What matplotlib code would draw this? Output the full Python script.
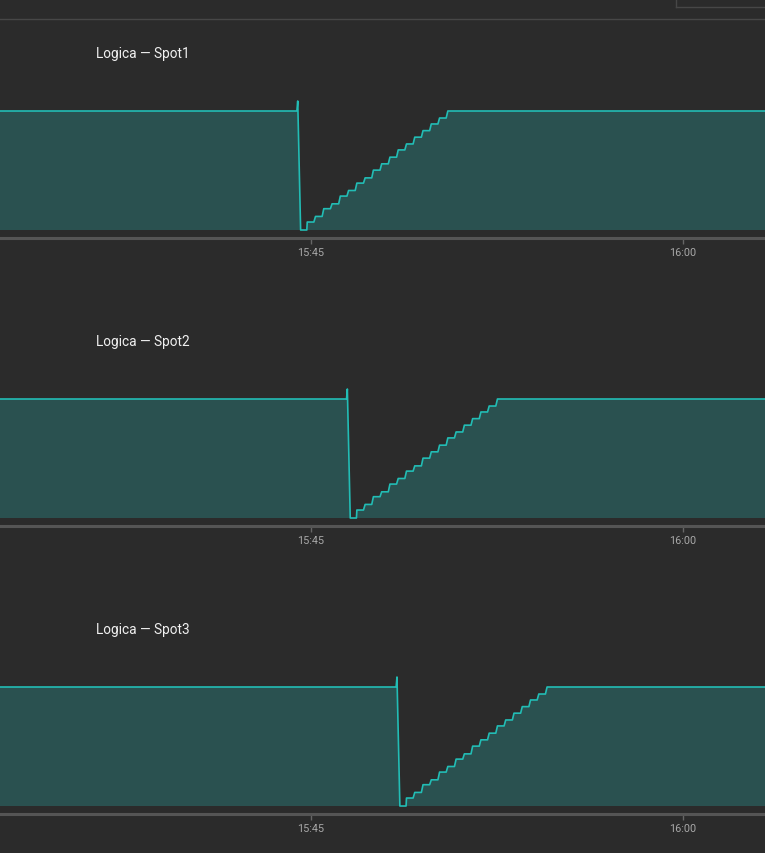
import pandas as pd
import matplotlib
matplotlib.use('Agg')
import matplotlib.pyplot as plt
import matplotlib.dates as mdates
from matplotlib.lines import Line2D

plt.rcParams['font.family'] = ['Roboto', 'DejaVu Sans']

BG = '#2b2b2b'
LINE = '#22bdb5'
FILL = '#2a5150'

day = '2024-01-01 '

titles = ['Logica \u2014 Spot1', 'Logica \u2014 Spot2', 'Logica \u2014 Spot3']
# plateau, spike, and the moment each spot emptied
plateau = 100.0
spike = 108.4
spike_times = ['15:44:28', '15:46:28', '15:48:28']
empty_times = ['15:44:35', '15:46:35', '15:48:35']
refill_start = ['15:44:51', '15:46:51', '15:48:51']
# refill staircase, one level every 20 s
levels1 = [0, 6.7, 11.4, 17.9, 22.0, 28.5, 33.2, 39.4, 43.8, 50.3, 55.6,
           61.2, 67.3, 72.3, 78.0, 83.5, 89.1, 94.1, 100.0]
levels2 = [0, 6.7, 11.4, 17.9, 22.0, 28.5, 33.2, 39.4, 43.8, 50.3, 55.6,
           61.2, 67.3, 72.3, 78.0, 83.5, 89.1, 94.1, 100.0]
levels3 = [0, 6.7, 11.4, 17.9, 22.0, 28.5, 33.2, 39.4, 43.8, 50.3, 55.6,
           61.2, 67.3, 72.3, 78.0, 83.5, 89.1, 94.1, 100.0]
all_levels = [levels1, levels2, levels3]

x_start = '15:32:28'
x_end = '16:03:18'


def buildSeries(k):
    t = [pd.Timestamp(day + x_start)]
    v = [plateau]
    sp = pd.Timestamp(day + spike_times[k])
    t += [sp - pd.Timedelta(seconds=2), sp, pd.Timestamp(day + empty_times[k])]
    v += [plateau, spike, 0]
    steps = pd.date_range(day + refill_start[k], periods=len(all_levels[k]) - 1, freq='20s')
    t.append(steps[0] - pd.Timedelta(seconds=1))
    v.append(0)
    for st, lv in zip(steps, all_levels[k][1:]):
        t += [st, st + pd.Timedelta(seconds=16)]
        v += [lv, lv]
    t.append(pd.Timestamp(day + x_end))
    v.append(plateau)
    return t, v


W, H = 765, 854
fig = plt.figure(figsize=(W / 100, H / 100), dpi=100)
fig.patch.set_facecolor(BG)

# top separator and the corner of a box above
fig.add_artist(Line2D([0, 1], [1 - 19.5 / H, 1 - 19.5 / H], color='#474747', lw=1))
fig.add_artist(Line2D([675.5 / W, 675.5 / W], [1, 1 - 7.5 / H], color='#474747', lw=1))
fig.add_artist(Line2D([675.5 / W, 1], [1 - 7.5 / H, 1 - 7.5 / H], color='#474747', lw=1))

px_per_unit = 119 / 100.0
ax_h = 180

for k in range(3):
    y_axis = 239 + 288 * k
    ax = fig.add_axes([0, 1 - y_axis / H, 1, ax_h / H])
    ax.set_facecolor('none')
    t, v = buildSeries(k)
    ax.fill_between(t, v, 0, color=FILL, lw=0)
    ax.plot(t, v, color=LINE, lw=1.2)
    ax.set_xlim(pd.Timestamp(day + x_start), pd.Timestamp(day + x_end))
    ax.set_ylim(-8 / px_per_unit, (ax_h - 8) / px_per_unit)
    for s in ['top', 'left', 'right']:
        ax.spines[s].set_visible(False)
    ax.spines['bottom'].set_color('#555555')
    ax.spines['bottom'].set_linewidth(2.2)
    ax.set_yticks([])
    ax.xaxis.set_major_locator(mdates.MinuteLocator(byminute=range(0, 60, 15)))
    ax.xaxis.set_major_formatter(mdates.DateFormatter('%H:%M'))
    ax.tick_params(axis='x', colors='#666666', length=4, width=1, pad=2.5,
                   labelsize=7.8, labelcolor='#a8a8a8')
    fig.text(96 / W, 1 - (54 + 288 * k) / H, titles[k], color='#f0f0f0',
             fontsize=9.8, ha='left', va='center')

fig.savefig('out.png', dpi=100, facecolor=BG)
